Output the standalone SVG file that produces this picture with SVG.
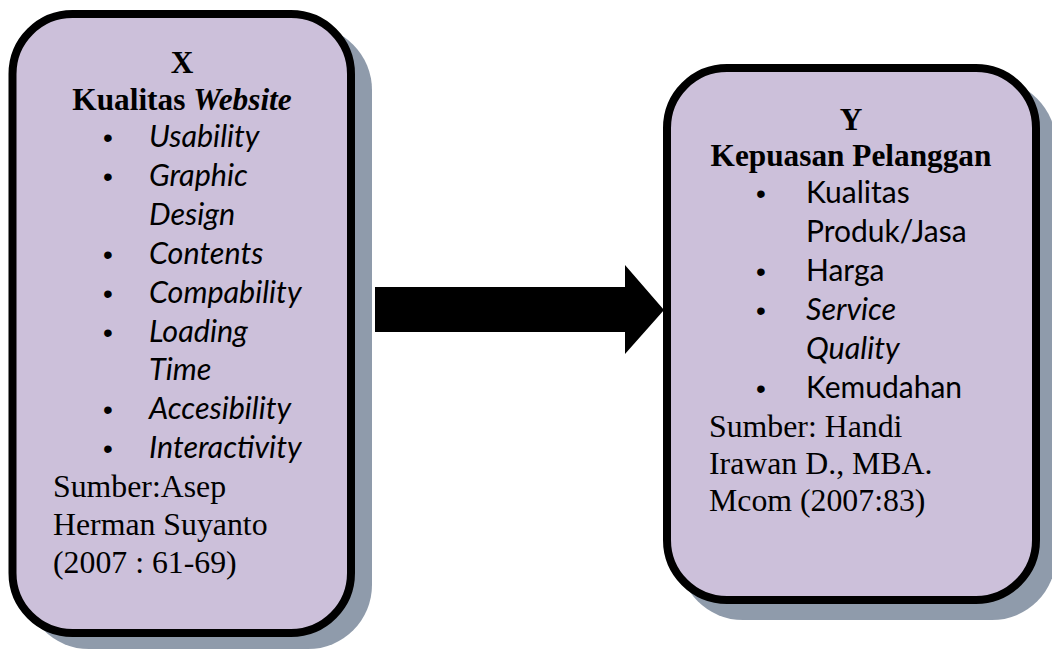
<svg xmlns="http://www.w3.org/2000/svg" width="1052" height="649" viewBox="0 0 1052 649">
<style>
.shadow{fill:#8F9BAB}
.box{fill:#CCC0DA;stroke:#000;stroke-width:8}
.tb{font-family:"Liberation Serif","Times New Roman",serif;font-weight:bold;font-size:31.3px;fill:#000}
.tr{font-family:"Liberation Serif","Times New Roman",serif;font-size:31.8px;fill:#000}
.ci{font-family:Lato,"Open Sans",sans-serif;font-style:italic;font-size:30.5px;fill:#000}
.cn{font-family:Lato,"Open Sans",sans-serif;font-size:30px;fill:#000}
.bul{font-family:"Liberation Sans",Arial,sans-serif;font-size:28px;fill:#000}
</style>
<g id="node-x">
<rect class="shadow" x="25" y="26" width="347" height="623" rx="64"/>
<rect class="box" x="12.5" y="14" width="338.5" height="619" rx="60"/>
<text class="tb" x="182" y="73" text-anchor="middle">X</text>
<text class="tb" x="182" y="110" text-anchor="middle">Kualitas <tspan font-style="italic">Website</tspan></text>
<g class="bul">
<text x="103" y="147">•</text>
<text x="103" y="186">•</text>
<text x="103" y="264">•</text>
<text x="103" y="303">•</text>
<text x="103" y="342">•</text>
<text x="103" y="419">•</text>
<text x="103" y="458">•</text>
</g>
<text class="ci" x="149" y="147">Usability</text>
<text class="ci" x="149" y="186">Graphic</text>
<text class="ci" x="149" y="225">Design</text>
<text class="ci" x="149" y="264">Contents</text>
<text class="ci" x="149" y="303">Compability</text>
<text class="ci" x="149" y="342">Loading</text>
<text class="ci" x="149" y="380">Time</text>
<text class="ci" x="149" y="419">Accesibility</text>
<text class="ci" x="149" y="458">Interactivity</text>
<text class="tr" x="53" y="497">Sumber:Asep</text>
<text class="tr" x="53" y="535">Herman Suyanto</text>
<text class="tr" x="53" y="573">(2007 : 61-69)</text>
</g>
<g id="node-y">
<rect class="shadow" x="679" y="80" width="377" height="540" rx="64"/>
<rect class="box" x="667" y="68" width="369" height="532" rx="60"/>
<text class="tb" x="851" y="130" text-anchor="middle">Y</text>
<text class="tb" x="851" y="166" text-anchor="middle">Kepuasan Pelanggan</text>
<g class="bul">
<text x="756" y="203">•</text>
<text x="756" y="281">•</text>
<text x="756" y="320">•</text>
<text x="756" y="398">•</text>
</g>
<text class="cn" x="806" y="203">Kualitas</text>
<text class="cn" x="806" y="242">Produk/Jasa</text>
<text class="cn" x="806" y="281">Harga</text>
<text class="ci" x="806" y="320">Service</text>
<text class="ci" x="806" y="359">Quality</text>
<text class="cn" x="806" y="398">Kemudahan</text>
<text class="tr" x="709" y="437">Sumber: Handi</text>
<text class="tr" x="709" y="474">Irawan D., MBA.</text>
<text class="tr" x="709" y="511">Mcom (2007:83)</text>
</g>
<g id="connectors">
<polygon points="375,287 625,287 625,265 664,310 625,354 625,332 375,332" fill="#000"/>
</g>
</svg>
